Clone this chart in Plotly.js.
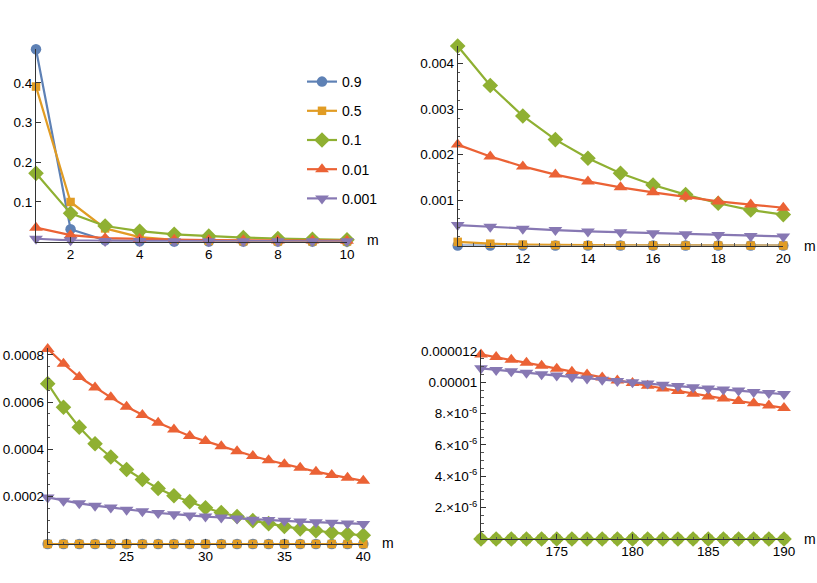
<!DOCTYPE html>
<html>
<head>
<meta charset="utf-8">
<script src="https://cdn.plot.ly/plotly-3.0.1.min.js"></script>
<style>
  html, body { margin: 0; padding: 0; background: #fff; }
  #chart { width: 817px; height: 583px; }
</style>
</head>
<body>
<div id="chart"></div>
<script>
/* global Plotly */
const seriesNames = ["0.9", "0.5", "0.1", "0.01", "0.001"];
const seriesColors = ["#5E81B5", "#E19C24", "#8FB032", "#EB6235", "#8778B3"];
const seriesSymbols = ["circle", "square", "diamond", "triangle-up", "triangle-down"];

// panel 1: m = 1..10
const m1 = [1, 2, 3, 4, 5, 6, 7, 8, 9, 10];
const p1 = [
  [0.485, 0.031, 0.003, 0.0005, 0.0001, 0, 0, 0, 0, 0],
  [0.391, 0.0997, 0.033, 0.011, 0.004, 0.0015, 0.0006, 0.0003, 0.0002, 0.0001],
  [0.172, 0.071, 0.039, 0.026, 0.018, 0.0135, 0.0098, 0.0074, 0.0057, 0.0044],
  [0.035, 0.016, 0.0085, 0.006, 0.0045, 0.0036, 0.003, 0.0027, 0.0024, 0.0022],
  [0.007, 0.003, 0.0015, 0.0011, 0.0009, 0.0007, 0.0006, 0.00055, 0.0005, 0.00045],
];

// panel 2: m = 10..20
const m2 = [10, 11, 12, 13, 14, 15, 16, 17, 18, 19, 20];
const p2 = [
  [0, 0, 0, 0, 0, 0, 0, 0, 0, 0, 0],
  [0.00008, 0.00004, 0.00002, 0.00001, 0.000005, 0.000002, 0.000001, 0, 0, 0, 0],
  [0.00439, 0.00352, 0.00285, 0.00233, 0.00192, 0.00159, 0.00133, 0.00112, 0.00093, 0.00078, 0.00068],
  [0.00222, 0.00196, 0.00174, 0.00156, 0.00141, 0.00128, 0.00117, 0.00107, 0.00097, 0.0009, 0.00083],
  [0.00045, 0.00041, 0.00037, 0.00034, 0.00031, 0.00029, 0.00027, 0.00025, 0.00023, 0.00021, 0.0002],
];

// panel 3: m = 20..40
const m3 = [20, 21, 22, 23, 24, 25, 26, 27, 28, 29, 30, 31, 32, 33, 34, 35, 36, 37, 38, 39, 40];
const p3 = [
  [0, 0, 0, 0, 0, 0, 0, 0, 0, 0, 0, 0, 0, 0, 0, 0, 0, 0, 0, 0, 0],
  [0, 0, 0, 0, 0, 0, 0, 0, 0, 0, 0, 0, 0, 0, 0, 0, 0, 0, 0, 0, 0],
  [0.000678, 0.000578, 0.000494, 0.000424, 0.000368, 0.000315, 0.000273, 0.000235, 0.000204, 0.000179, 0.000153,
    0.000133, 0.000116, 0.000099, 0.000086, 0.000074, 0.000064, 0.000056, 0.000048, 0.000042, 0.000037],
  [0.000825, 0.000762, 0.000706, 0.000662, 0.00062, 0.00058, 0.000545, 0.000513, 0.000484, 0.000457, 0.000435,
    0.000413, 0.000392, 0.000372, 0.000354, 0.000337, 0.000322, 0.000306, 0.000292, 0.00028, 0.000267],
  [0.000197, 0.000183, 0.000172, 0.000162, 0.000154, 0.000145, 0.000138, 0.000131, 0.000126, 0.00012, 0.000116,
    0.000112, 0.000108, 0.000103, 0.000101, 0.000098, 0.000095, 0.000092, 0.00009, 0.000087, 0.000085],
];

// panel 4: m = 170..190
const m4 = [170, 171, 172, 173, 174, 175, 176, 177, 178, 179, 180, 181, 182, 183, 184, 185, 186, 187, 188, 189, 190];
const p4 = [
  [0, 0, 0, 0, 0, 0, 0, 0, 0, 0, 0, 0, 0, 0, 0, 0, 0, 0, 0, 0, 0],
  [0, 0, 0, 0, 0, 0, 0, 0, 0, 0, 0, 0, 0, 0, 0, 0, 0, 0, 0, 0, 0],
  [0, 0, 0, 0, 0, 0, 0, 0, 0, 0, 0, 0, 0, 0, 0, 0, 0, 0, 0, 0, 0],
  [11.77e-6, 11.6e-6, 11.43e-6, 11.24e-6, 11.05e-6, 10.86e-6, 10.67e-6, 10.48e-6, 10.29e-6, 10.11e-6, 9.94e-6,
    9.77e-6, 9.6e-6, 9.43e-6, 9.26e-6, 9.09e-6, 8.95e-6, 8.8e-6, 8.65e-6, 8.51e-6, 8.36e-6],
  [10.88e-6, 10.78e-6, 10.69e-6, 10.6e-6, 10.51e-6, 10.42e-6, 10.33e-6, 10.24e-6, 10.15e-6, 10.07e-6, 9.99e-6,
    9.91e-6, 9.83e-6, 9.75e-6, 9.67e-6, 9.6e-6, 9.53e-6, 9.46e-6, 9.38e-6, 9.31e-6, 9.24e-6],
];

// tick labels
const x1Ticks = [2, 4, 6, 8, 10];
const y1Ticks = [0.1, 0.2, 0.3, 0.4];
const x2Ticks = [12, 14, 16, 18, 20];
const y2Ticks = [0.001, 0.002, 0.003, 0.004];
const y2Labels = ["0.001", "0.002", "0.003", "0.004"];
const x3Ticks = [25, 30, 35, 40];
const y3Ticks = [0.0002, 0.0004, 0.0006, 0.0008];
const y3Labels = ["0.0002", "0.0004", "0.0006", "0.0008"];
const x4Ticks = [175, 180, 185, 190];
const y4Ticks = [2e-6, 4e-6, 6e-6, 8e-6, 1e-5, 1.2e-5];
const y4Labels = ["2.×10<sup>-6</sup>", "4.×10<sup>-6</sup>", "6.×10<sup>-6</sup>", "8.×10<sup>-6</sup>", "0.00001", "0.000012"];

const W = 817;
const H = 583;
const FONT = "Liberation Sans, Arial, sans-serif";
const markerSizes = [10.5, 8.5, 12, 12, 12];

function getTrace(xs, ys, i, axisIdx) {
  const sfx = axisIdx === 1 ? "" : String(axisIdx);
  return {
    x: xs,
    y: ys,
    type: "scatter",
    mode: "lines+markers",
    name: seriesNames[i],
    legendgroup: seriesNames[i],
    showlegend: axisIdx === 1,
    xaxis: "x" + sfx,
    yaxis: "y" + sfx,
    cliponaxis: false,
    line: { color: seriesColors[i], width: 2.2 },
    marker: {
      symbol: seriesSymbols[i],
      color: seriesColors[i],
      size: markerSizes[i],
    },
  };
}

// pixel box -> paper domain
function xDom(left, right) {
  return [left / W, right / W];
}
function yDom(bottom, top) {
  return [(H - bottom) / H, (H - top) / H];
}

function axis(domain, range, tickvals, ticktext, anchor, minorDtick) {
  const ax = {
    domain,
    range,
    anchor,
    tickvals,
    showgrid: false,
    zeroline: false,
    showline: true,
    linecolor: "#333",
    linewidth: 1,
    ticks: "inside",
    ticklen: 5,
    tickcolor: "#333",
    tickfont: { family: FONT, size: 13.5, color: "#000" },
    fixedrange: true,
  };
  if (ticktext) ax.ticktext = ticktext;
  if (minorDtick) {
    ax.minor = { ticks: "inside", ticklen: 2.5, tickcolor: "#555", dtick: minorDtick, showgrid: false };
  }
  return ax;
}

const data = [];
[[m1, p1], [m2, p2], [m3, p3], [m4, p4]].forEach(([xs, rows], k) => {
  rows.forEach((ys, i) => data.push(getTrace(xs, ys, i, k + 1)));
});

const mLabel = (x, y) => ({
  xref: "paper", yref: "paper", x: x / W, y: (H - y) / H,
  text: "m", showarrow: false, xanchor: "left", yanchor: "middle",
  font: { family: FONT, size: 14, color: "#000" },
});

const layout = {
  width: W,
  height: H,
  margin: { l: 0, r: 0, t: 0, b: 0 },
  paper_bgcolor: "#fff",
  plot_bgcolor: "rgba(0,0,0,0)",
  font: { family: FONT },
  xaxis: axis(xDom(36, 347), [1, 10], x1Ticks, null, "y"),
  yaxis: axis(yDom(241.5, 49.3), [0, 0.485], y1Ticks, null, "x"),
  xaxis2: axis(xDom(457.7, 783.3), [10, 20], x2Ticks, null, "y2", 0.5),
  yaxis2: axis(yDom(245.5, 46), [0, 0.00439], y2Ticks, y2Labels, "x2", 0.0002),
  xaxis3: axis(xDom(47.7, 363.3), [20, 40], x3Ticks, null, "y3", 1),
  yaxis3: axis(yDom(544, 347.7), [0, 0.00083], y3Ticks, y3Labels, "x3", 0.00005),
  xaxis4: axis(xDom(481, 784), [170, 190], x4Ticks, null, "y4", 1),
  yaxis4: axis(yDom(539, 350), [0, 12.05e-6], y4Ticks, y4Labels, "x4", 0.5e-6),
  showlegend: true,
  legend: {
    x: 302 / W,
    y: (H - 66) / H,
    xanchor: "left",
    yanchor: "top",
    bgcolor: "rgba(0,0,0,0)",
    font: { family: FONT, size: 14, color: "#000" },
    tracegroupgap: 8,
    itemclick: false,
  },
  annotations: [mLabel(365, 240), mLabel(802, 246), mLabel(380, 543), mLabel(802, 539)],
};

Plotly.newPlot(document.getElementById("chart"), data, layout, { staticPlot: true, displayModeBar: false });
</script>
</body>
</html>
